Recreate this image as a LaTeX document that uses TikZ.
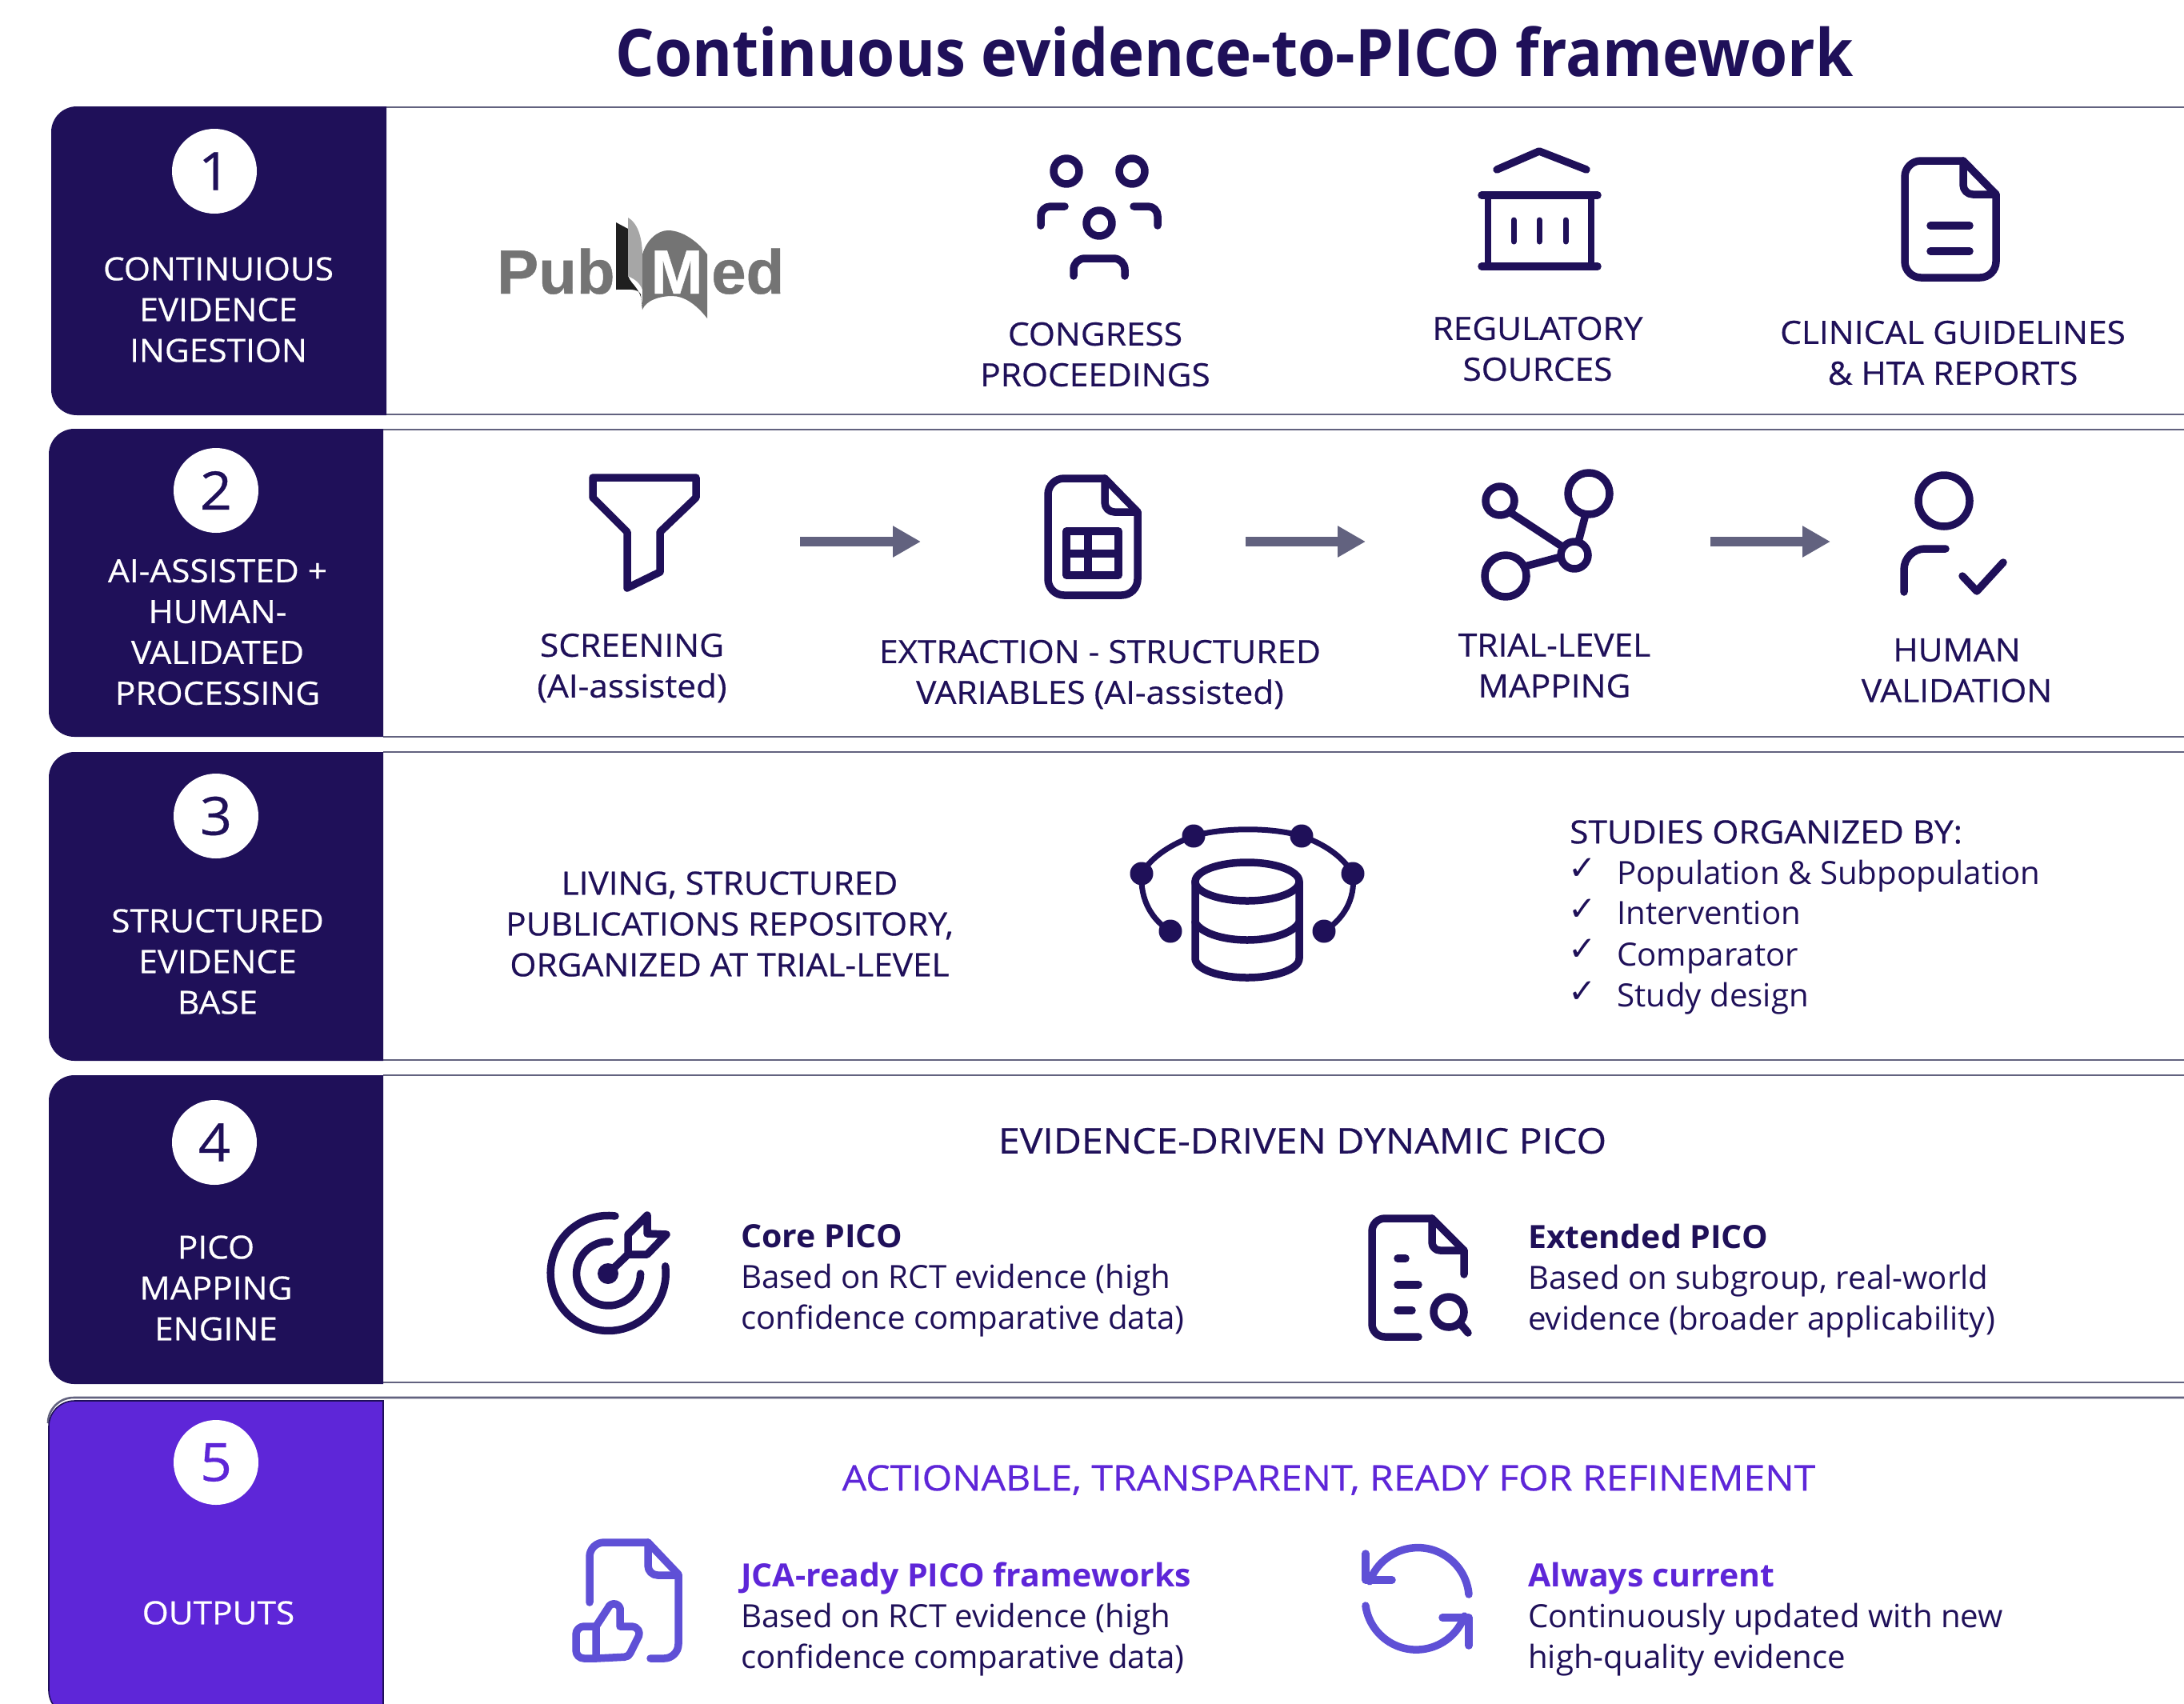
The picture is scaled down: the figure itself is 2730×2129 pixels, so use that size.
\documentclass[tikz,border=0pt]{standalone}
\usepackage{fontspec}
\setmainfont[FakeStretch=1.005,BoldFeatures={FakeStretch=1.025}]{Open Sans}
\newfontfamily\capsfont[FakeStretch=1.06,FakeBold=0.5]{Open Sans}
\newfontfamily\headfont[FakeStretch=1.095,FakeBold=0.5]{Open Sans}
\newfontfamily\titlefont[FakeStretch=0.93]{Open Sans}
\newfontfamily\symfont{DejaVu Sans}
\newfontfamily\logofont[FakeBold=0.6]{Liberation Sans}
\usetikzlibrary{arrows.meta}
\definecolor{navy}{HTML}{1F1059}
\definecolor{violet}{HTML}{5E26D8}
\definecolor{iconviolet}{HTML}{5F50D6}
\definecolor{rowgrey}{HTML}{62627F}
\definecolor{logogrey}{HTML}{747474}
\tikzset{
  tx/.style={font=\capsfont\fontsize{40}{51}\selectfont,text=navy,inner sep=0pt,align=center},
  hd/.style={font=\headfont\fontsize{44}{51}\selectfont,text=navy,inner sep=0pt,align=center},
  txl/.style={font=\fontsize{40}{51}\selectfont,text=navy,inner sep=0pt,align=left,anchor=west},
  side/.style={tx,text=white},
  num/.style={circle,fill=white,minimum size=106pt,inner sep=0pt,font=\capsfont\fontsize{66}{66}\selectfont},
  rowline/.style={draw=rowgrey,line width=2.6pt},
  ico/.style={draw=navy,line width=9.5pt,line cap=round,line join=round},
  icv/.style={draw=iconviolet,line width=9.5pt,line cap=round,line join=round},
  flow/.style={draw=rowgrey,line width=12pt,-{Triangle[length=35pt,width=37pt]}},
  chk/.style={inner sep=0pt,font=\symfont\fontsize{42}{42}\selectfont,text=navy}
}
\newcommand{\leftbox}[5]{%
  \fill[#5] (#2,-#3) -- (#2,-#4) -- ({#1+32},-#4) arc[start angle=270,end angle=180,radius=32]
   -- (#1,{-#3-32}) arc[start angle=180,end angle=90,radius=32] -- cycle;}
\begin{document}
\begin{tikzpicture}[x=1pt,y=1pt]
\useasboundingbox (0,0) rectangle (2730,-2129);
\fill[white] (0,0) rectangle (2730,-2129);
% title
\node[inner sep=0pt,text=navy,font=\titlefont\fontsize{82}{90}\selectfont\bfseries] (title) at (1543,-65) {Continuous evidence-to-PICO framework};
% row lines
\draw[rowline] (483,-134) -- (2730,-134);
\draw[rowline] (483,-518) -- (2730,-518);
\draw[rowline] (479,-537) -- (2730,-537);
\draw[rowline] (479,-921) -- (2730,-921);
\draw[rowline] (479,-940) -- (2730,-940);
\draw[rowline] (479,-1325) -- (2730,-1325);
\draw[rowline] (479,-1344) -- (2730,-1344);
\draw[rowline] (479,-1728) -- (2730,-1728);
\draw[rowline] (2730,-1747) -- (92,-1747) arc[start angle=90,end angle=180,radius=32];
% side panels
\leftbox{64}{483}{133}{519}{navy}
\leftbox{61}{479}{536}{921}{navy}
\leftbox{61}{479}{940}{1326}{navy}
\leftbox{61}{479}{1344}{1730}{navy}
\path[fill=violet,draw=navy,line width=1.6pt] (479,-1751) -- (479,-2145) -- (93,-2145) arc[start angle=270,end angle=180,radius=32] -- (61,-1783) arc[start angle=180,end angle=90,radius=32] -- cycle;
% number badges
\node[num,text=navy] (n1) at (268,-214) {1};
\node[num,text=navy] (n2) at (270,-613) {2};
\node[num,text=navy] (n3) at (270,-1020) {3};
\node[num,text=navy] (n4) at (268,-1428) {4};
\node[num,text=violet] (n5) at (270,-1828) {5};
% side labels
\node[side] (s1) at (273,-387) {CONTINUIOUS\\EVIDENCE\\INGESTION};
\node[side] (s2) at (272,-790) {AI-ASSISTED +\\HUMAN-\\VALIDATED\\PROCESSING};
\node[side] (s3) at (272,-1202) {STRUCTURED\\EVIDENCE\\BASE};
\node[side] (s4) at (270,-1610) {PICO\\MAPPING\\ENGINE};
\node[side] (s5) at (273,-2016) {OUTPUTS};
% PubMed logo
\fill[black!88] (770,-278) -- (785,-286) -- (785,-345) .. controls (790,-358) and (803,-360) .. (803,-387) -- (801,-368) .. controls (797,-360) and (785,-362) .. (770,-362) -- cycle;
\fill[black!35] (785,-272) .. controls (796,-278) and (803,-295) .. (803,-320) -- (803,-362) .. controls (798,-350) and (790,-348) .. (785,-345) -- cycle;
\fill[logogrey] (803,-318) .. controls (808,-300) and (822,-288) .. (835,-288) .. controls (855,-288) and (875,-305) .. (884,-318) -- (884,-398) .. controls (870,-380) and (855,-370) .. (840,-370) .. controls (825,-370) and (808,-375) .. (803,-387) -- cycle;
\node[inner sep=0pt,anchor=base west,text=logogrey,font=\logofont\fontsize{78}{78}\selectfont\bfseries] (pub) at (621,-367) {Pub};
\node[inner sep=0pt,anchor=base west,text=logogrey,font=\logofont\fontsize{78}{78}\selectfont\bfseries] (ed) at (889,-367) {ed};
\node[inner sep=0pt,anchor=base,text=white,font=\logofont\fontsize{78}{78}\selectfont\bfseries] (m) at (846,-367) {M};
% Row 1 icons: congress
\draw[ico] (1333,-214) circle (16);
\draw[ico] (1415,-214) circle (16);
\draw[ico] (1374,-279) circle (16);
\draw[ico] (1301,-282) -- (1301,-270) arc[start angle=180,end angle=90,radius=12] -- (1331,-258);
\draw[ico] (1447,-282) -- (1447,-270) arc[start angle=0,end angle=90,radius=12] -- (1417,-258);
\draw[ico] (1342,-345) -- (1342,-337) arc[start angle=180,end angle=90,radius=14] -- (1392,-323) arc[start angle=90,end angle=0,radius=14] -- (1406,-345);
% regulatory
\draw[ico] (1871,-212) -- (1924,-189) -- (1983,-212);
\draw[ico] (1852,-244) -- (1997,-244);
\draw[ico] (1852,-333) -- (1997,-333);
\draw[ico,line width=8pt] (1860,-244) -- (1860,-333);
\draw[ico,line width=8pt] (1989,-244) -- (1989,-333);
\draw[ico,line width=7pt] (1892,-275) -- (1892,-302);
\draw[ico,line width=7pt] (1924,-275) -- (1924,-302);
\draw[ico,line width=7pt] (1957,-275) -- (1957,-302);
% guidelines
\draw[ico] (2454,-201) -- (2401,-201) arc[start angle=90,end angle=180,radius=20] -- (2381,-327) arc[start angle=180,end angle=270,radius=20] -- (2475,-347) arc[start angle=270,end angle=360,radius=20] -- (2495,-243) -- cycle;
\draw[ico] (2454,-201) -- (2454,-231) arc[start angle=180,end angle=270,radius=12] -- (2495,-243);
\draw[ico] (2413,-282) -- (2462,-282);
\draw[ico] (2413,-314) -- (2462,-314);
% Row 1 labels
\node[tx] (t11) at (1369,-443) {CONGRESS\\PROCEEDINGS};
\node[tx] (t12) at (1922,-436) {REGULATORY\\SOURCES};
\node[tx] (t13) at (2441,-441) {CLINICAL GUIDELINES\\\& HTA REPORTS};
% Row 2 icons: funnel
\draw[ico] (741,-597) -- (870,-597) -- (870,-622) -- (825,-665) -- (825,-715) -- (784,-735) -- (784,-665) -- (741,-622) -- cycle;
% extraction doc
\draw[ico] (1381,-598) -- (1330,-598) arc[start angle=90,end angle=180,radius=20] -- (1310,-724) arc[start angle=180,end angle=270,radius=20] -- (1402,-744) arc[start angle=270,end angle=360,radius=20] -- (1422,-640) -- cycle;
\draw[ico] (1381,-598) -- (1381,-628) arc[start angle=180,end angle=270,radius=12] -- (1422,-640);
\draw[ico] (1333,-664) rectangle (1398,-719);
\draw[ico] (1333,-692) -- (1398,-692);
\draw[ico] (1360,-664) -- (1360,-719);
% share
\draw[ico] (1986,-617) circle (26);
\draw[ico] (1875,-626) circle (18);
\draw[ico] (1882,-720) circle (26);
\draw[ico] (1968,-694) circle (17);
\draw[ico,line cap=butt] (1887,-640) -- (1954,-684);
\draw[ico,line cap=butt] (1982,-643) -- (1973,-677);
\draw[ico,line cap=butt] (1906,-708) -- (1951,-696);
% human validation
\draw[ico] (2430,-626) circle (32);
\draw[ico] (2380,-740) -- (2380,-712) arc[start angle=180,end angle=90,radius=26] -- (2432,-686);
\draw[ico] (2453,-720) -- (2471,-739) -- (2504,-703);
% flow arrows
\coordinate (f1a) at (1000,-677); \coordinate (f1b) at (1151,-677);
\coordinate (f2a) at (1557,-677); \coordinate (f2b) at (1707,-677);
\coordinate (f3a) at (2138,-677); \coordinate (f3b) at (2288,-677);
\draw[flow] (f1a) -- (f1b);
\draw[flow] (f2a) -- (f2b);
\draw[flow] (f3a) -- (f3b);
% Row 2 labels
\node[tx] (t21) at (790,-835) {SCREENING\\(AI-assisted)};
\node[tx] (t22) at (1375,-843) {EXTRACTION - STRUCTURED\\VARIABLES (AI-assisted)};
\node[tx] (t23) at (1943,-832) {TRIAL-LEVEL\\MAPPING};
\node[tx] (t24) at (2446,-838) {HUMAN\\VALIDATION};
% Row 3
\node[tx] (t31) at (912,-1155) {LIVING, STRUCTURED\\PUBLICATIONS REPOSITORY,\\ORGANIZED AT TRIAL-LEVEL};
\node[tx,anchor=west] (t32) at (1962,-1040) {STUDIES ORGANIZED BY:};
\node[chk] (c1) at (1978,-1086) {✓};
\node[chk] (c2) at (1978,-1137) {✓};
\node[chk] (c3) at (1978,-1187) {✓};
\node[chk] (c4) at (1978,-1240) {✓};
\node[txl] (p1) at (2021,-1095) {Population \& Subpopulation};
\node[txl] (p2) at (2021,-1141) {Intervention};
\node[txl] (p3) at (2021,-1198) {Comparator};
\node[txl] (p4) at (2021,-1248) {Study design};
% database
\draw[ico] (1559,-1102) ellipse (65 and 24);
\draw[ico] (1494,-1102) -- (1494,-1198) .. controls (1494,-1212) and (1525,-1222) .. (1559,-1222) .. controls (1593,-1222) and (1624,-1212) .. (1624,-1198) -- (1624,-1102);
\draw[ico] (1494,-1153) .. controls (1502,-1167) and (1530,-1175) .. (1559,-1175) .. controls (1588,-1175) and (1616,-1167) .. (1624,-1153);
\draw[ico,line width=7pt] (1463,-1164) .. controls (1440,-1150) and (1425,-1125) .. (1427,-1092) .. controls (1440,-1070) and (1465,-1055) .. (1492,-1045) .. controls (1530,-1034) and (1590,-1034) .. (1627,-1045) .. controls (1655,-1055) and (1678,-1070) .. (1691,-1092) .. controls (1695,-1125) and (1678,-1150) .. (1655,-1164);
\foreach \dx/\dy in {1427/1092,1492/1045,1627/1045,1691/1092,1463/1164,1655/1164}
  \fill[navy] (\dx,-\dy) circle (14.5);
% Row 4
\node[hd] (t41) at (1628,-1426) {EVIDENCE-DRIVEN DYNAMIC PICO};
\node[txl] (t42) at (926,-1601) {\textbf{Core PICO}\\Based on RCT evidence (high\\confidence comparative data)};
\node[txl] (t43) at (1910,-1601) {\textbf{Extended PICO}\\Based on subgroup, real-world\\evidence (broader applicability)};
% target
\draw[ico] (769,-1520) arc[start angle=83,end angle=367,radius=72];
\draw[ico] (762,-1552) arc[start angle=88,end angle=360,radius=40];
\fill[navy] (760,-1592) circle (13);
\draw[ico] (760,-1592) -- (785,-1568);
\draw[ico] (785,-1543) -- (809,-1519) -- (809,-1542) -- (833,-1543) -- (809,-1568) -- (785,-1568) -- cycle;
% doc search
\draw[ico] (1773,-1671) -- (1731,-1671) arc[start angle=270,end angle=180,radius=16] -- (1715,-1539) arc[start angle=180,end angle=90,radius=16] -- (1790,-1523) -- (1830,-1563) -- (1830,-1593);
\draw[ico] (1790,-1523) -- (1790,-1553) arc[start angle=180,end angle=270,radius=10] -- (1830,-1563);
\draw[ico] (1747,-1573) -- (1757,-1573);
\draw[ico] (1747,-1606) -- (1773,-1606);
\draw[ico] (1747,-1638) -- (1765,-1638);
\draw[ico] (1811,-1640) circle (19);
\draw[ico] (1825,-1654) -- (1835,-1666);
% Row 5
\node[hd,text=violet] (t51) at (1661,-1850) {ACTIONABLE, TRANSPARENT, READY FOR REFINEMENT};
\node[txl] (t52) at (926,-2024) {\textcolor{violet}{\textbf{JCA-ready PICO frameworks}}\\Based on RCT evidence (high\\confidence comparative data)};
\node[txl] (t53) at (1910,-2024) {\textcolor{violet}{\textbf{Always current}}\\Continuously updated with new\\high-quality evidence};
% thumb doc
\draw[icv] (737,-2003) -- (737,-1946) arc[start angle=180,end angle=90,radius=18] -- (810,-1928) -- (848,-1968) -- (848,-2055) arc[start angle=360,end angle=270,radius=18] -- (813,-2073);
\draw[icv] (810,-1928) -- (810,-1957) arc[start angle=180,end angle=270,radius=12] -- (848,-1969);
\draw[icv] (730,-2033) -- (745,-2033) -- (745,-2073) -- (730,-2073) arc[start angle=270,end angle=180,radius=10] -- (720,-2043) arc[start angle=180,end angle=90,radius=10];
\draw[icv] (745,-2033) -- (760,-2010) arc[start angle=160,end angle=20,radius=8] -- (775,-2033) -- (790,-2033) arc[start angle=90,end angle=-20,radius=9] -- (788,-2066) arc[start angle=-20,end angle=-90,radius=8] -- (745,-2073);
% sync
\draw[icv] (1836,-1993) arc[start angle=5,end angle=160,radius=64];
\draw[icv] (1707,-1942) -- (1707,-1975) -- (1740,-1975);
\draw[icv] (1707,-2007) arc[start angle=188,end angle=340,radius=64];
\draw[icv] (1803,-2022) -- (1836,-2022) -- (1836,-2057);
\end{tikzpicture}
\end{document}
